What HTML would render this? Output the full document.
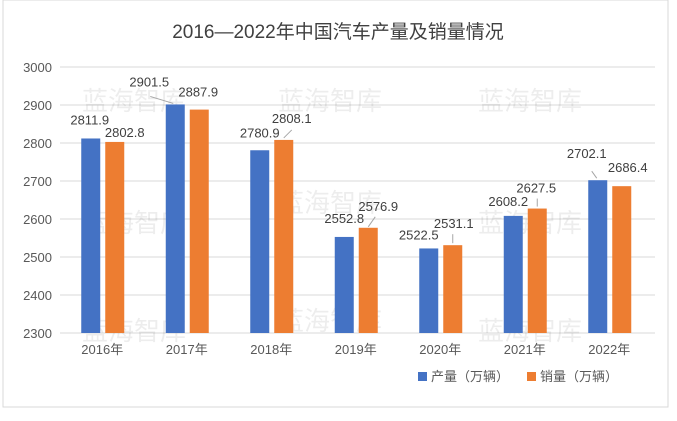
<!DOCTYPE html>
<html><head><meta charset="utf-8"><style>
body{margin:0;background:#fff;}
svg text{font-family:"Liberation Sans","Noto Sans CJK SC",sans-serif;}
</style></head><body>
<svg width="677" height="416">
<rect x="3" y="0" width="665" height="407" fill="#fff" stroke="#d9d9d9"/>
<text x="338" y="38" text-anchor="middle" font-size="19" fill="#404040">2016—2022年中国汽车产量及销量情况</text>
<g id="grid"></g><g id="wm"></g><g id="bars"></g><g id="labels"></g>
<g>
<rect x="418" y="372" width="9" height="9" fill="#4472c4"/>
<text x="431" y="381" font-size="13" fill="#595959">产量（万辆）</text>
<rect x="527" y="372" width="9" height="9" fill="#ed7d31"/>
<text x="540" y="381" font-size="13" fill="#595959">销量（万辆）</text>
</g>
</svg>
<script>
const categories=["2016年","2017年","2018年","2019年","2020年","2021年","2022年"];
const production=[2811.9,2901.5,2780.9,2552.8,2522.5,2608.2,2702.1];
const sales=[2802.8,2887.9,2808.1,2576.9,2531.1,2627.5,2686.4];
const ticks=[2300,2400,2500,2600,2700,2800,2900,3000];
// label layout offsets relative to bar (not data)
const pOff=[[-1,-14],[-26,-18],[0,-13],[0,-14],[-10,-9],[-5,-10],[-11,-22]];
const sOff=[[10,-5],[-1,-13],[8,-17],[10,-17],[1,-17],[-1,-16],[6,-14]];
const pLead=[null,[-25,-8,-2,-1],null,null,null,null,[-6,-9,-1,-2]];
const sLead=[null,null,[0,-2,8,-10],[0,-1,7,-11],[0,-11,0,-2],[0,-10,0,-2],null];
const NS="http://www.w3.org/2000/svg";
const x0=62,pitch=84.5,yMin=2300,yMax=3000,yTop=67,yBot=333;
const y=v=>yBot-(v-yMin)/(yMax-yMin)*(yBot-yTop);
const cx=i=>x0+pitch*(i+0.5);
function mk(tag,attrs,parent,txt){const e=document.createElementNS(NS,tag);for(const k in attrs)e.setAttribute(k,attrs[k]);if(txt!==undefined)e.textContent=txt;document.getElementById(parent).appendChild(e);return e;}
ticks.forEach(t=>{
 const l=mk('line',{x1:60,x2:655,y1:y(t),y2:y(t),stroke:'#d9d9d9'},'grid');
 
 
 const tx=mk('text',{x:52,y:y(t)+5,'text-anchor':'end','font-size':13,fill:'#595959'},'grid',t);
 
 
});
[[82,110],[278,110],[478,110],[82,232],[278,212],[478,232],[82,340],[278,330],[478,340]].forEach(p=>{
 const w=mk('text',{x:p[0],y:p[1],'font-size':26,fill:'#000','fill-opacity':0.07},'wm','蓝海智库');
 
 
});
function leader(bx,by,o,name){
 const l=mk('line',{x1:bx+o[0],y1:by+o[1],x2:bx+o[2],y2:by+o[3],stroke:'#a6a6a6'},'labels');
 
 
}
categories.forEach((c,i)=>{
 const c0=cx(i), pc=c0-13.5, sc=c0+10.5;
 const b1=mk('rect',{x:pc-9.5,y:y(production[i]),width:19,height:yBot-y(production[i]),fill:'#4472c4'},'bars');
 
 
 const b2=mk('rect',{x:sc-9.5,y:y(sales[i]),width:19,height:yBot-y(sales[i]),fill:'#ed7d31'},'bars');
 
 
 const xl=mk('text',{x:c0-2,y:354,'text-anchor':'middle','font-size':13,fill:'#595959'},'labels',c);
 
 
 const l1=mk('text',{x:pc+pOff[i][0],y:y(production[i])+pOff[i][1],'text-anchor':'middle','font-size':13,fill:'#404040'},'labels',production[i].toFixed(1));
 
 
 const l2=mk('text',{x:sc+sOff[i][0],y:y(sales[i])+sOff[i][1],'text-anchor':'middle','font-size':13,fill:'#404040'},'labels',sales[i].toFixed(1));
 
 
 if(pLead[i]) leader(pc,y(production[i]),pLead[i],'leader-production-'+c);
 if(sLead[i]) leader(sc,y(sales[i]),sLead[i],'leader-sales-'+c);
});
</script>
</body></html>
